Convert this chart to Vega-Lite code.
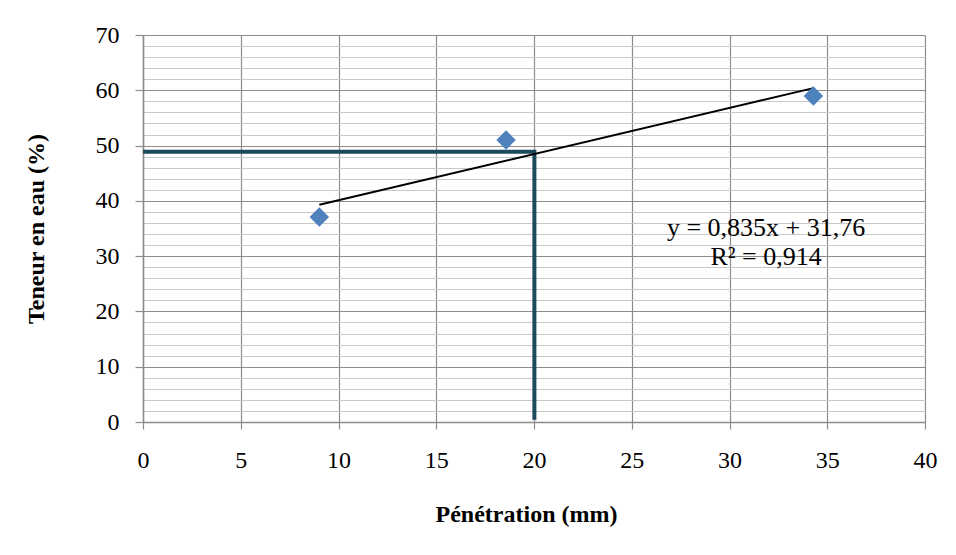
{
  "$schema": "https://vega.github.io/schema/vega-lite/v6.json",
  "autosize": {"type": "none"},
  "width": 782,
  "height": 387,
  "padding": {"left": 143, "top": 35, "right": 31, "bottom": 133},
  "background": "white",
  "config": {
    "view": {"stroke": null},
    "font": "Liberation Serif",
    "axis": {"labelFont": "Liberation Serif", "titleFont": "Liberation Serif", "labelFontSize": 24, "titleFontSize": 24, "titleFontWeight": "bold", "labelColor": "#000", "titleColor": "#000", "labelOverlap": false, "labelBound": false, "labelFlush": false}
  },
  "datasets": {
    "pts": [
      {"x": 9.02, "y": 37.1},
      {"x": 18.57, "y": 51.0},
      {"x": 34.29, "y": 58.96}
    ],
    "trend": [
      {"x": 9.02, "y": 39.29},
      {"x": 34.29, "y": 60.39}
    ],
    "guide": [
      {"o": 1, "x": 0, "y": 48.9},
      {"o": 2, "x": 20.02, "y": 48.9},
      {"o": 3, "x": 20.02, "y": 0.4}
    ],
    "labels": [
      {"x": 31.87, "y": 35.1, "t": "y = 0,835x + 31,76"},
      {"x": 31.87, "y": 29.8, "t": "R² = 0,914"}
    ]
  },
  "layer": [
    {
      "data": {"name": "guide"},
      "mark": {"type": "line", "color": "#1B4A5C", "strokeWidth": 4, "strokeJoin": "miter", "strokeCap": "butt"},
      "encoding": {
        "x": {
          "field": "x", "type": "quantitative",
          "scale": {"domain": [0, 40], "nice": false, "zero": false},
          "axis": {
            "values": [0, 5, 10, 15, 20, 25, 30, 35, 40],
            "tickCount": 100,
            "format": "d",
            "title": "Pénétration (mm)",
            "titlePadding": 30,
            "titleX": 383,
            "grid": true, "gridColor": "#8c8c8c", "gridWidth": 1.2,
            "domainColor": "#8c8c8c", "domainWidth": 1.5,
            "tickColor": "#8c8c8c", "tickSize": 7, "tickWidth": 1.2,
            "labelPadding": 19
          }
        },
        "y": {
          "field": "y", "type": "quantitative",
          "scale": {"domain": [0, 70], "nice": false, "zero": false},
          "axis": {
            "values": [0, 2, 4, 6, 8, 10, 12, 14, 16, 18, 20, 22, 24, 26, 28, 30, 32, 34, 36, 38, 40, 42, 44, 46, 48, 50, 52, 54, 56, 58, 60, 62, 64, 66, 68, 70],
            "tickCount": 100,
            "format": "d",
            "labelExpr": "datum.value % 10 === 0 ? datum.label : ''",
            "title": "Teneur en eau (%)",
            "titlePadding": 47,
            "grid": true,
            "gridColor": {"condition": {"test": "datum.value % 10 === 0", "value": "#8c8c8c"}, "value": "#c8c8c8"},
            "gridWidth": 1.2,
            "domainColor": "#8c8c8c", "domainWidth": 1.5,
            "tickColor": {"condition": {"test": "datum.value % 10 === 0", "value": "#8c8c8c"}, "value": "transparent"},
            "tickSize": 8, "tickWidth": 1.2,
            "labelPadding": 16
          }
        },
        "order": {"field": "o"}
      }
    },
    {
      "data": {"name": "trend"},
      "mark": {"type": "line", "color": "#000", "strokeWidth": 2},
      "encoding": {
        "x": {"field": "x", "type": "quantitative"},
        "y": {"field": "y", "type": "quantitative"}
      }
    },
    {
      "data": {"name": "pts"},
      "mark": {"type": "point", "shape": "diamond", "filled": true, "color": "#4F81BD", "opacity": 1, "size": 380},
      "encoding": {
        "x": {"field": "x", "type": "quantitative"},
        "y": {"field": "y", "type": "quantitative"}
      }
    },
    {
      "data": {"name": "labels"},
      "mark": {"type": "text", "font": "Liberation Serif", "fontSize": 26, "color": "#000", "align": "center", "baseline": "middle"},
      "encoding": {
        "x": {"field": "x", "type": "quantitative"},
        "y": {"field": "y", "type": "quantitative"},
        "text": {"field": "t"}
      }
    }
  ]
}
